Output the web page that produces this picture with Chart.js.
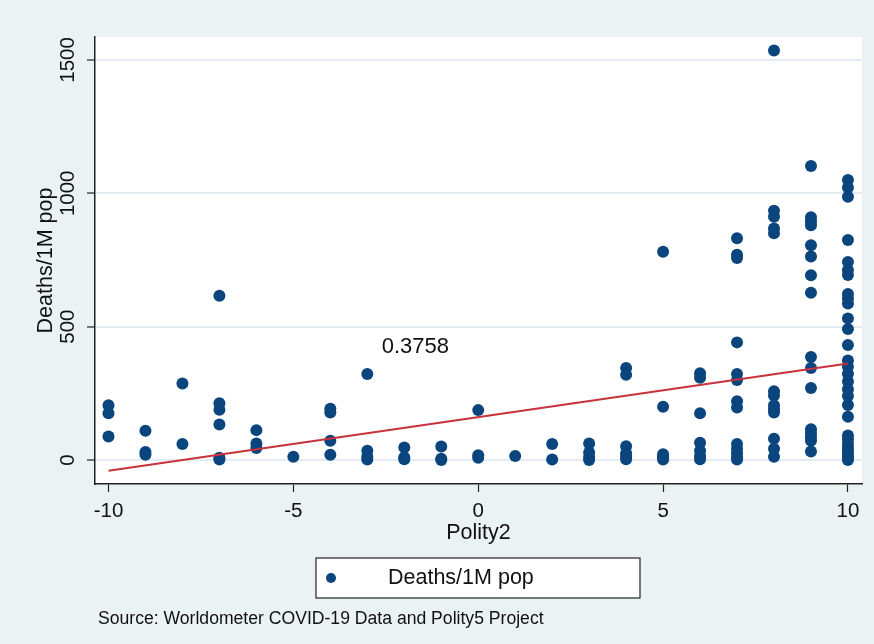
<!DOCTYPE html>
<html>
<head>
<meta charset="utf-8">
<script src="https://cdn.jsdelivr.net/npm/chart.js@4/dist/chart.umd.min.js"></script>
<style>
  body { margin: 0; background: #EAF2F3; }
</style>
</head>
<body>
<canvas id="polityChart" width="874" height="644"></canvas>
<script>
// Polity2 score and deaths per million for the countries at each score
const polity = [-10, -9, -8, -7, -6, -5, -4, -3, -2, -1, 0, 1, 2, 3, 4, 5, 6, 7, 8, 9, 10];
const deaths = [
    [205, 175, 88],
    [110, 30, 20],
    [287, 60],
    [616, 213, 188, 133, 8, 2],
    [112, 62, 45],
    [12],
    [192, 178, 72, 20],
    [322, 35, 12, 2],
    [47, 10, 3],
    [51, 5, 0],
    [187, 18, 8],
    [15],
    [60, 2],
    [62, 28, 10, 0],
    [345, 320, 52, 25, 12, 3],
    [781, 200, 22, 10, 2],
    [325, 308, 175, 65, 35, 15, 3],
    [831, 770, 757, 441, 322, 300, 220, 197, 60, 42, 25, 10, 2],
    [1535, 935, 912, 868, 850, 258, 242, 205, 190, 178, 80, 42, 12],
    [1102, 910, 895, 880, 805, 763, 693, 627, 386, 345, 270, 115, 100, 85, 72, 32],
    [1050, 1022, 987, 825, 742, 712, 694, 622, 606, 587, 531, 491, 431, 373, 350, 323, 294, 265, 240, 206, 162, 92, 78, 60, 45, 32, 20, 8, 0]
];

// linear fit end points and the correlation label
const fitX = [-10, 10];
const fitY = [-40, 362];
const corrLabel = '0.3758';
const corrPos = [-1.7, 424];

const xTicks = [-10, -5, 0, 5, 10];
const yTicks = [0, 500, 1000, 1500];

const NAVY = '#0B457E';
const RED = '#C8323C';
const BG = '#EAF2F3';
const FONT = 'Liberation Sans, Arial, sans-serif';

const points = [];
polity.forEach((p, i) => {
    deaths[i].forEach(d => points.push({ x: p, y: d }));
});

const fitLine = fitX.map((x, i) => ({ x: x, y: fitY[i] }));

// backgrounds, rotated y labels, text label, legend and note
const stataLook = {
    id: 'stataLook',
    beforeDraw(chart) {
        const { ctx, chartArea: a } = chart;
        ctx.save();
        ctx.fillStyle = BG;
        ctx.fillRect(0, 0, chart.width, chart.height);
        ctx.fillStyle = '#FFFFFF';
        ctx.fillRect(a.left, a.top, a.right - a.left, a.bottom - a.top);
        ctx.restore();
    },
    afterDraw(chart) {
        const ctx = chart.ctx;
        const xs = chart.scales.x;
        const ys = chart.scales.y;
        ctx.save();

        // y tick labels, vertical like Stata
        ctx.fillStyle = '#111';
        ctx.font = '20.5px ' + FONT;
        ctx.textAlign = 'center';
        ctx.textBaseline = 'middle';
        ys.ticks.forEach(t => {
            ctx.save();
            ctx.translate(68, ys.getPixelForValue(t.value));
            ctx.rotate(-Math.PI / 2);
            ctx.fillText(String(t.value), 0, 0);
            ctx.restore();
        });

        // correlation label
        ctx.font = '22px ' + FONT;
        ctx.fillText(corrLabel, xs.getPixelForValue(corrPos[0]), ys.getPixelForValue(corrPos[1]));

        // legend box
        ctx.fillStyle = '#FFFFFF';
        ctx.fillRect(316, 558, 324, 40);
        ctx.strokeStyle = '#222';
        ctx.lineWidth = 1.2;
        ctx.strokeRect(316, 558, 324, 40);
        ctx.fillStyle = NAVY;
        ctx.beginPath();
        ctx.arc(331, 578, 5, 0, Math.PI * 2);
        ctx.fill();
        ctx.fillStyle = '#111';
        ctx.font = '21.5px ' + FONT;
        ctx.textAlign = 'left';
        ctx.fillText(chart.data.datasets[1].label, 388, 578);

        // source note
        ctx.font = '17.6px ' + FONT;
        ctx.fillText('Source: Worldometer COVID-19 Data and Polity5 Project', 98, 619);
        ctx.restore();
    }
};

const ctx = document.getElementById('polityChart');

new Chart(ctx, {
    type: 'scatter',
    data: {
        datasets: [{
            type: 'line',
            label: 'Fitted values',
            data: fitLine,
            borderColor: RED,
            borderWidth: 2,
            pointRadius: 0,
            fill: false,
            order: 0
        }, {
            label: 'Deaths/1M pop',
            data: points,
            backgroundColor: NAVY,
            borderWidth: 0,
            pointRadius: 6,
            pointHoverRadius: 6,
            order: 1
        }]
    },
    options: {
        responsive: false,
        animation: false,
        layout: {
            padding: { top: 37, right: 12, bottom: 0, left: 0 }
        },
        plugins: {
            legend: { display: false },
            tooltip: { enabled: false }
        },
        scales: {
            x: {
                type: 'linear',
                min: -10.365,
                max: 10.38,
                afterBuildTicks: scale => {
                    scale.ticks = xTicks.map(v => ({ value: v }));
                },
                afterFit: scale => { scale.height = 160; },
                ticks: {
                    color: '#111',
                    padding: 7,
                    font: { family: FONT, size: 20.5 }
                },
                grid: {
                    drawOnChartArea: false,
                    drawTicks: true,
                    tickLength: 8,
                    tickColor: '#222',
                    tickWidth: 1.2
                },
                border: { color: '#222', width: 1.5 },
                title: {
                    display: true,
                    text: 'Polity2',
                    color: '#111',
                    font: { family: FONT, size: 21.5 },
                    padding: { top: 0, bottom: 98 }
                }
            },
            y: {
                type: 'linear',
                min: -90,
                max: 1586,
                afterBuildTicks: scale => {
                    scale.ticks = yTicks.map(v => ({ value: v }));
                },
                afterFit: scale => { scale.width = 95; },
                ticks: { display: false },
                grid: {
                    color: '#E3EDF1',
                    lineWidth: 2,
                    drawTicks: true,
                    tickLength: 8,
                    tickColor: '#222',
                    tickWidth: 1.2
                },
                border: { color: '#222', width: 1.5 },
                title: {
                    display: true,
                    text: 'Deaths/1M pop',
                    color: '#111',
                    font: { family: FONT, size: 21.5 },
                    padding: { top: 33, bottom: 0 }
                }
            }
        }
    },
    plugins: [stataLook]
});
</script>
</body>
</html>
